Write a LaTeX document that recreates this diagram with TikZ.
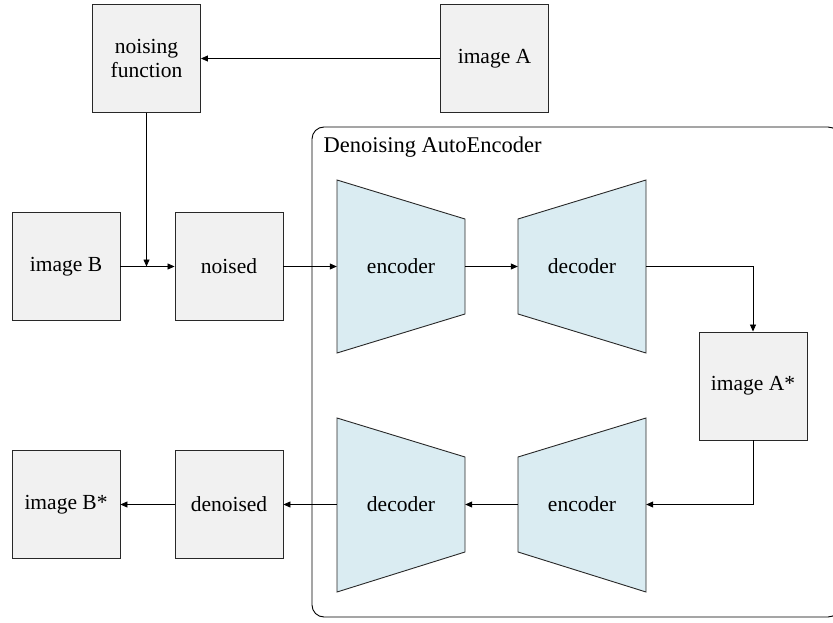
\documentclass[tikz,border=0pt]{standalone}
\usepackage{fontspec}
\setmainfont{Liberation Serif}
\newfontfamily\labelfont{Liberation Serif}
\usetikzlibrary{arrows.meta,calc}
\definecolor{boxfill}{RGB}{241,241,241}
\definecolor{netfill}{RGB}{218,236,242}
\definecolor{edge}{RGB}{40,40,40}
\tikzset{
  imgbox/.style={draw=edge, line width=0.9pt, fill=boxfill, minimum width=108pt, minimum height=108pt,
    inner sep=0pt, align=center, font=\labelfont\fontsize{21.5}{24}\selectfont},
  netbox/.style={minimum width=128pt, minimum height=173pt, inner sep=0pt,
    font=\labelfont\fontsize{21.5}{24}\selectfont},
  netshape/.style={draw=edge, line width=0.9pt, fill=netfill},
  conn/.style={draw=black, line width=0.8pt, -{Triangle[length=7pt,width=6pt]}},
}
\begin{document}
\begin{tikzpicture}[x=1pt,y=-1pt]
\useasboundingbox (0,0) rectangle (833,623);
% autoencoder frame (its right side runs past the page edge)
\begin{scope}
\clip (0,0) rectangle (833,623);
\draw[draw=black, line width=0.9pt, rounded corners=12pt] (312,127) rectangle (840,617);
\end{scope}
\node[anchor=base west, font=\labelfont\fontsize{22.5}{26}\selectfont] (title) at (320,153) {Denoising AutoEncoder};

% image boxes
\node[imgbox] (noisefn) at (146.5,58.5) {noising\\function};
\node[imgbox] (imgA) at (494.5,58.5) {image A};
\node[imgbox] (imgB) at (66,266.5) {image B};
\node[imgbox] (noised) at (229,266.5) {noised};
\node[imgbox] (imgAs) at (753,386) {image A*};
\node[imgbox] (imgBs) at (66,504.5) {image B*};
\node[imgbox] (denoised) at (229,504.5) {denoised};

% encoder / decoder trapezoids
\path[netshape] (337,180) -- (465,219) -- (465,314) -- (337,353) -- cycle;
\path[netshape] (518,219) -- (646,180) -- (646,353) -- (518,314) -- cycle;
\path[netshape] (518,457) -- (646,418) -- (646,592) -- (518,552) -- cycle;
\path[netshape] (337,418) -- (465,457) -- (465,552) -- (337,592) -- cycle;
\node[netbox] (enc1) at (401,266.5) {encoder};
\node[netbox] (dec1) at (582,266.5) {decoder};
\node[netbox] (enc2) at (582,504.5) {encoder};
\node[netbox] (dec2) at (401,504.5) {decoder};

% connectors
\coordinate (join) at (noisefn.south |- imgB.east);
\draw[conn] (imgA.west) -- (noisefn.east);
\draw[conn] (noisefn.south) -- (join);
\draw[conn] (imgB.east) -- (noised.west);
\draw[conn] (noised.east) -- (enc1.west);
\draw[conn] (enc1.east) -- (dec1.west);
\draw[conn] (dec1.east) -| (imgAs.north);
\draw[conn] (imgAs.south) |- (enc2.east);
\draw[conn] (enc2.west) -- (dec2.east);
\draw[conn] (dec2.west) -- (denoised.east);
\draw[conn] (denoised.west) -- (imgBs.east);
\end{tikzpicture}
\end{document}
